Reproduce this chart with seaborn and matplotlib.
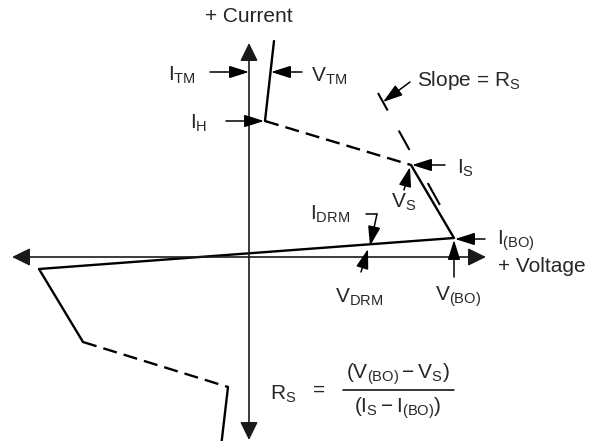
import matplotlib
matplotlib.use("Agg")
import matplotlib.pyplot as plt
import seaborn as sns

# Thyristor / SIDAC V-I characteristic (schematic units, origin at axis crossing)
on_state_v = [25, 16]
on_state_i = [216, 136]
neg_res_v = [16, 162]
neg_res_i = [136, 92]
fwd_v = [162, 205, -210, -166]
fwd_i = [92, 19, -12, -85]
rev_dash_v = [-166, -21]
rev_dash_i = [-85, -130]
rev_on_v = [-21, -28]
rev_on_i = [-130, -190]
slope_v = [129, 192]
slope_i = [164, 50]

sns.set_style("white")
plt.rcParams["font.family"] = ["Liberation Sans", "DejaVu Sans"]
plt.rcParams["mathtext.fontset"] = "custom"
plt.rcParams["mathtext.rm"] = "Liberation Sans"
plt.rcParams["mathtext.it"] = "Liberation Sans:italic"

fig = plt.figure(figsize=(5.95, 4.41), dpi=100)
ax = fig.add_axes([0, 0, 1, 1])
ax.set_xlim(-249, 346)
ax.set_ylim(-184, 257)
ax.axis("off")

# axes arrows
axis_arrow = dict(arrowstyle="<|-|>,head_length=0.55,head_width=0.27",
                  mutation_scale=20, lw=1.2, color="#1a1a1a", shrinkA=0, shrinkB=0)
ax.annotate("", xy=(237, 0), xytext=(-237, 0), arrowprops=axis_arrow)
ax.annotate("", xy=(0, 214), xytext=(0, -183), arrowprops=axis_arrow)

# characteristic curve
lw = 1.7
dash = (0, (6, 3))
sns.lineplot(x=on_state_v, y=on_state_i, sort=False, estimator=None, color="k", lw=lw, ax=ax)
sns.lineplot(x=fwd_v, y=fwd_i, sort=False, estimator=None, color="k", lw=lw, ax=ax)
sns.lineplot(x=rev_on_v, y=rev_on_i, sort=False, estimator=None, color="k", lw=lw, ax=ax)
ax.plot(neg_res_v, neg_res_i, color="k", lw=lw, linestyle=dash)
ax.plot(rev_dash_v, rev_dash_i, color="k", lw=lw, linestyle=dash)
ax.plot(slope_v, slope_i, color="k", lw=1.5, linestyle=(0, (9.6, 11, 10.6, 18.2, 12, 20)))

# annotation arrows
small = dict(arrowstyle="-|>,head_length=0.6,head_width=0.19",
             mutation_scale=20, lw=1.1, color="k", shrinkA=0, shrinkB=0)
arrows = [
    ((-39, 185), (0, 185)),     # I_TM
    ((53, 185), (22, 185)),     # V_TM
    ((-23, 136), (15, 136)),    # I_H
    ((161, 175), (134, 155)),   # slope
    ((196, 92), (163, 92)),     # I_S
    ((155, 67), (161, 90)),     # V_S
    ((236, 18), (206, 18)),     # I_(BO)
    ((205, -20), (205, 17)),    # V_(BO)
    ((128, 43), (121, 11)),     # I_DRM
    ((112, -15), (119, 8)),     # V_DRM
]
for start, end in arrows:
    ax.annotate("", xy=end, xytext=start, arrowprops=small)
ax.plot([117, 128], [43, 43], color="k", lw=1.1)

fs = 15
ax.text(0, 240, "+ Current", ha="center", va="center", fontsize=fs)
ax.text(249, -10, "+ Voltage", ha="left", va="center", fontsize=fs)
ax.text(-53, 182, r"$\mathregular{I_{TM}}$", ha="right", va="center", fontsize=fs)
ax.text(62, 181, r"$\mathregular{V_{TM}}$", ha="left", va="center", fontsize=fs)
ax.text(-42, 134, r"$\mathregular{I_{H}}$", ha="right", va="center", fontsize=fs)
ax.text(168, 177, r"Slope = $\mathregular{R_{S}}$", ha="left", va="center", fontsize=fs)
ax.text(208, 89, r"$\mathregular{I_{S}}$", ha="left", va="center", fontsize=fs)
ax.text(142, 55, r"$\mathregular{V_{S}}$", ha="left", va="center", fontsize=fs)
ax.text(61, 43, r"$\mathregular{I_{DRM}}$", ha="left", va="center", fontsize=fs)
ax.text(248, 16, r"$\mathregular{I_{(BO)}}$", ha="left", va="center", fontsize=fs)
ax.text(110, -40, r"$\mathregular{V_{DRM}}$", ha="center", va="center", fontsize=fs)
ax.text(209, -40, r"$\mathregular{V_{(BO)}}$", ha="center", va="center", fontsize=fs)

# formula
ax.text(21, -137, r"$\mathregular{R_{S}}$", ha="left", va="center", fontsize=fs)
ax.text(70, -133, "=", ha="center", va="center", fontsize=fs)
ax.text(149, -117, r"$\mathregular{(V_{(BO)}-V_{S})}$", ha="center", va="center", fontsize=fs)
ax.text(149, -151, r"$\mathregular{(I_{S}-I_{(BO)})}$", ha="center", va="center", fontsize=fs)
ax.plot([94, 205], [-133, -133], color="k", lw=1.1)

fig.savefig("out.png", dpi=100)
